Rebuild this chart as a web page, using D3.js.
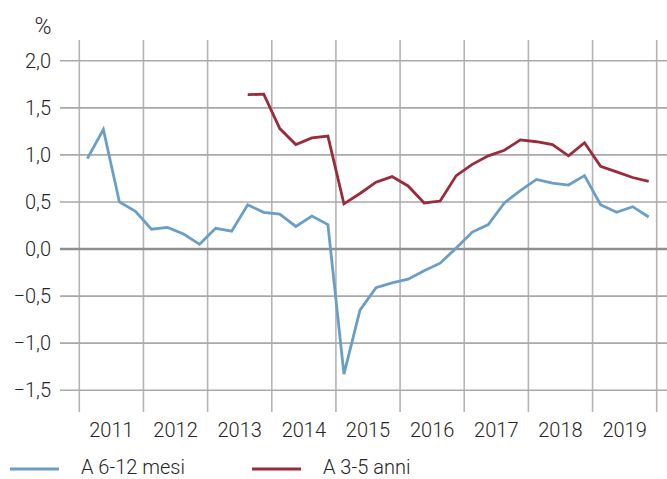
<!doctype html>
<html>
<head>
<meta charset="UTF-8">
<title>Tassi</title>
<script src="https://cdn.jsdelivr.net/npm/d3@7"></script>
<style>
  body { margin: 0; background: #fff; }
  svg { display: block; font-family: Roboto, "Noto Sans", sans-serif; font-weight: 300; }
</style>
</head>
<body>
<svg id="chart" width="667" height="479"></svg>
<script>
// quarterly data, first point 2011 Q1
const years = [2011, 2012, 2013, 2014, 2015, 2016, 2017, 2018, 2019];
const yTicks = [-1.5, -1.0, -0.5, 0, 0.5, 1.0, 1.5, 2.0];

const shortName = 'A 6-12 mesi';
const shortStart = 2011; // Q1
const shortValues = [
  0.96, 1.27, 0.50, 0.40,
  0.21, 0.23, 0.16, 0.05,
  0.22, 0.19, 0.47, 0.39,
  0.37, 0.24, 0.35, 0.26,
  -1.33, -0.65, -0.41, -0.36,
  -0.32, -0.23, -0.15, 0.01,
  0.18, 0.26, 0.49, 0.62,
  0.74, 0.70, 0.68, 0.78,
  0.47, 0.39, 0.45, 0.34
];

const longName = 'A 3-5 anni';
const longStart = 2013.5; // Q3
const longValues = [
  1.64, 1.645,
  1.28, 1.11, 1.18, 1.20,
  0.48, 0.59, 0.71, 0.77,
  0.67, 0.49, 0.51, 0.78,
  0.90, 0.99, 1.05, 1.16,
  1.14, 1.11, 0.99, 1.13,
  0.88, 0.82, 0.76, 0.72
];

const blue = '#6b9ec6';
const red = '#9b2a3b';
const textColor = '#262626';

const svg = d3.select('#chart');

const x = d3.scaleLinear().domain([2011, 2020]).range([79.3, 656.7]);
const y = d3.scaleLinear().domain([-1.5, 2.0]).range([390.2, 60.8]);

function toPoints(start, values) {
  return values.map(function(v, i) {
    return { t: start + (i + 0.5) / 4, v: v };
  });
}

// vertical grid (year boundaries)
svg.append('g')
  .selectAll('line')
  .data(d3.range(2011, 2021))
  .join('line')
    .attr('x1', d => x(d)).attr('x2', d => x(d))
    .attr('y1', 40).attr('y2', 412)
    .attr('stroke', '#b4b4b4')
    .attr('stroke-width', 1.6);

// horizontal grid
svg.append('g')
  .selectAll('line')
  .data(yTicks)
  .join('line')
    .attr('x1', 60).attr('x2', 667)
    .attr('y1', d => y(d)).attr('y2', d => y(d))
    .attr('stroke', d => d === 0 ? '#8f8f8f' : '#a9a9a9')
    .attr('stroke-width', d => d === 0 ? 2.4 : 1.6);

// y axis labels
const fmt = v => (v < 0 ? '\u2212' : '') + Math.abs(v).toFixed(1).replace('.', ',');
svg.append('g')
  .selectAll('text')
  .data(yTicks)
  .join('text')
    .attr('x', 51)
    .attr('y', d => y(d))
    .attr('dy', '0.36em')
    .attr('text-anchor', 'end')
    .attr('font-size', 20)
    .attr('fill', textColor)
    .text(fmt);

svg.append('text')
  .attr('x', 43).attr('y', 26).attr('dy', '0.36em')
  .attr('text-anchor', 'middle')
  .attr('font-size', 23).attr('fill', textColor)
  .text('%');

// x axis labels
svg.append('g')
  .selectAll('text')
  .data(years)
  .join('text')
    .attr('x', d => x(d + 0.5))
    .attr('y', 436.5)
    .attr('text-anchor', 'middle')
    .attr('font-size', 20)
    .attr('fill', textColor)
    .text(d => d);

// series
const line = d3.line().x(d => x(d.t)).y(d => y(d.v));

svg.append('path')
  .datum(toPoints(shortStart, shortValues))
  .attr('fill', 'none')
  .attr('stroke', blue)
  .attr('stroke-width', 2.8)
  .attr('stroke-linejoin', 'miter')
  .attr('d', line);

svg.append('path')
  .datum(toPoints(longStart, longValues))
  .attr('fill', 'none')
  .attr('stroke', red)
  .attr('stroke-width', 2.8)
  .attr('stroke-linejoin', 'miter')
  .attr('d', line);

// legend
const legend = [
  { name: shortName, color: blue, x: 10 },
  { name: longName, color: red, x: 252 }
];
const lg = svg.append('g')
  .selectAll('g')
  .data(legend)
  .join('g')
    .attr('transform', d => 'translate(' + d.x + ',469)');
lg.append('line')
  .attr('x1', 0).attr('x2', 49)
  .attr('stroke', d => d.color)
  .attr('stroke-width', 2.8);
lg.append('text')
  .attr('x', 71)
  .attr('y', 4.5)
  .attr('font-size', 20)
  .attr('fill', textColor)
  .text(d => d.name);
</script>
</body>
</html>
